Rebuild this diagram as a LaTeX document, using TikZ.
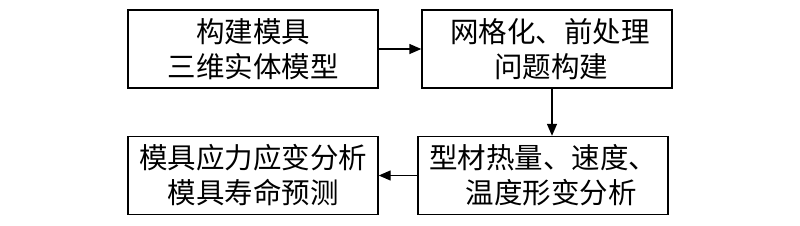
\documentclass[tikz,border=0pt]{standalone}
\usepackage{fontspec}
\setmainfont{Noto Sans CJK SC}
\usetikzlibrary{arrows.meta}
\begin{document}
\begin{tikzpicture}[x=1pt,y=-1pt,
  box/.style={draw=black,line width=1.4pt,minimum width=250pt,minimum height=78pt,inner sep=0pt,align=center,
    font=\fontsize{28.5pt}{35pt}\selectfont},
  arr/.style={line width=1.4pt,-{Triangle[length=12pt,width=10pt]}}]
\useasboundingbox (0,0) rectangle (800,225);
\node[box] (b1) at (253,49) {构建模具\\三维实体模型};
\node[box] (b2) at (547,49) {\hspace{6pt}网格化、前处理\\\hspace{8pt}问题构建};
\node[box] (b3) at (543,175.5) {型材热量、速度、\\\hspace{16pt}温度形变分析};
\node[box] (b4) at (253,175.5) {模具应力应变分析\\模具寿命预测};
\draw[arr] (b1) -- (b2);
\draw[arr] ([xshift=5pt]b2.south) -- ([xshift=5pt]b2.south |- b3.north);
\draw[arr] (b3) -- (b4);
\end{tikzpicture}
\end{document}
